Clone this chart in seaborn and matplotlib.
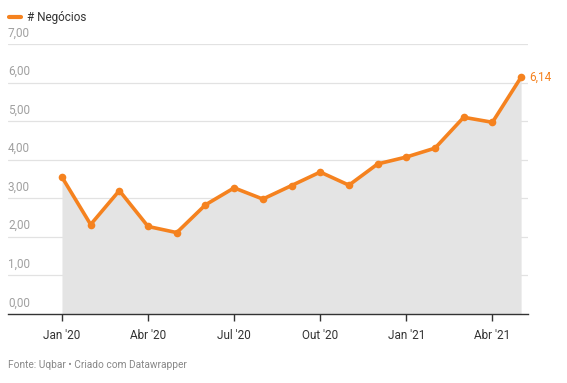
import matplotlib
matplotlib.use("Agg")
import matplotlib.pyplot as plt
import seaborn as sns
import pandas as pd

# ── Data ────────────────────────────────────────────────
months = ["Jan '20", "Fev '20", "Mar '20", "Abr '20", "Mai '20", "Jun '20",
          "Jul '20", "Ago '20", "Set '20", "Out '20", "Nov '20", "Dez '20",
          "Jan '21", "Fev '21", "Mar '21", "Abr '21", "Mai '21"]
negocios = [3.55, 2.32, 3.20, 2.27, 2.11, 2.83, 3.27, 2.98, 3.33, 3.68,
            3.34, 3.89, 4.07, 4.30, 5.10, 4.97, 6.14]
tick_idx = [0, 3, 6, 9, 12, 15]
y_ticks = [0, 1, 2, 3, 4, 5, 6, 7]

df = pd.DataFrame({"idx": range(len(months)), "value": negocios})

sns.set_theme(style="white")
plt.rcParams["font.family"] = ["Roboto", "DejaVu Sans"]

orange = "#f5821f"
fig = plt.figure(figsize=(5.67, 3.83), dpi=100)
ax = fig.add_axes([8 / 567, 69 / 383, 520 / 567, 270 / 383])

ax.fill_between(df["idx"], df["value"], 0, color="#e4e4e4", lw=0, zorder=1)
sns.lineplot(data=df, x="idx", y="value", ax=ax, color=orange, lw=2.6,
             marker="o", markersize=5.5, markeredgewidth=0, zorder=3)

ax.set_ylim(0, 7)
ax.set_xlim(-1.88, 16.24)

# gridlines + inline y labels
for v in y_ticks:
    if v > 0:
        ax.axhline(v, color="#e2e2e2", lw=0.9, zorder=0.5)
    ax.text(-1.88, v + 0.12, f"{v:.2f}".replace(".", ","), color="#a0a0a0",
            fontsize=8.5, ha="left", va="bottom")
ax.set_yticks([])
ax.set_ylabel("")
ax.set_xlabel("")

ax.set_xticks(tick_idx)
ax.set_xticklabels([months[i] for i in tick_idx], fontsize=8.5, color="#333333")
ax.tick_params(axis="x", length=5, width=1, color="#333333", pad=6, bottom=True)

for s in ["top", "right", "left"]:
    ax.spines[s].set_visible(False)
ax.spines["bottom"].set_color("#333333")
ax.spines["bottom"].set_linewidth(1)

# last value label
ax.text(len(negocios) - 1 + 0.3, negocios[-1], f"{negocios[-1]:.2f}".replace(".", ","),
        color=orange, fontsize=8.5, ha="left", va="center")

# legend
fig.add_artist(plt.Line2D([9 / 567, 21 / 567], [1 - 17 / 383, 1 - 17 / 383],
                          color=orange, lw=3, solid_capstyle="round"))
fig.text(27 / 567, 1 - 17 / 383, "# Negócios", fontsize=8.5, color="#333333",
         va="center", ha="left")

fig.text(8 / 567, 1 - 365 / 383, "Fonte: Uqbar • Criado com Datawrapper",
         fontsize=7.3, color="#888888", va="center", ha="left")

fig.savefig("out.png", dpi=100)
